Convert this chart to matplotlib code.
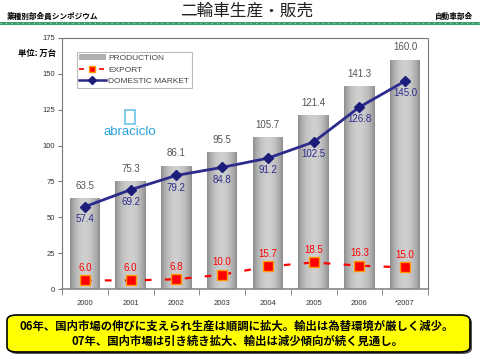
import numpy as np
import matplotlib
matplotlib.use("Agg")
import matplotlib.pyplot as plt
from matplotlib.patches import FancyBboxPatch, Rectangle
from matplotlib.lines import Line2D
from matplotlib.patches import Patch

plt.rcParams['font.family'] = ['Liberation Sans', 'Noto Sans CJK JP', 'DejaVu Sans']

years = ["2000", "2001", "2002", "2003", "2004", "2005", "2006", "*2007"]
production = [63.5, 75.3, 86.1, 95.5, 105.7, 121.4, 141.3, 160.0]
domestic = [57.4, 69.2, 79.2, 84.8, 91.2, 102.5, 126.8, 145.0]
export = [6.0, 6.0, 6.8, 10.0, 15.7, 18.5, 16.3, 15.0]
yticks = [0, 25, 50, 75, 100, 125, 150, 175]

W, H = 480, 359
fig = plt.figure(figsize=(W / 100, H / 100), dpi=100)
fig.patch.set_facecolor('white')

def fx(px):
    return px / W

def fy(py):
    return 1 - py / H

ax = fig.add_axes([fx(62), fy(289), fx(428) - fx(62), fy(38) - fy(289)])
x = np.arange(len(years))

# cylindrical bars built from strips
bw = 0.67
n = 30
edges = np.linspace(-bw / 2, bw / 2, n + 1)
centers = (edges[:-1] + edges[1:]) / 2
sw = edges[1] - edges[0]
for i, v in enumerate(production):
    for c in centers:
        t = (c + bw / 2) / bw
        g = 0.54 + 0.27 * np.sin(np.pi * t) ** 0.8
        ax.bar(x[i] + c, v, width=sw * 1.02, color=(g, g, g), linewidth=0, zorder=1)
    ax.text(x[i], v + 5, f"{v:.1f}", ha='center', va='bottom', fontsize=7, color='#555555', zorder=5)

ax.plot(x, domestic, color='#2b2b8c', lw=2, marker='D', ms=5.5, mfc='#1c1c7a', mec='#1c1c7a', zorder=3)
for i, v in enumerate(domestic):
    ax.text(x[i], v - 5, f"{v:.1f}", ha='center', va='top', fontsize=7, color='#2b2b8c', zorder=5)

ax.plot(x, export, color='#ff0000', lw=1.6, ls=(0, (3, 6)), zorder=3)
ax.plot(x, export, ls='none', marker='s', ms=7, mfc='#ff0000', mec='#ff9900', mew=1, zorder=4)
for i, v in enumerate(export):
    ax.text(x[i], v + 5, f"{v:.1f}", ha='center', va='bottom', fontsize=7, color='#ff0000', zorder=5)

ax.set_xlim(-0.5, len(years) - 0.5)
ax.set_ylim(0, 175)
ax.set_yticks(yticks)
ax.set_yticklabels([str(t) for t in yticks], fontsize=5.5, color='#333333')
ax.set_xticks(x)
ax.set_xticklabels(years, fontsize=5.5, color='#333333')
ax.tick_params(axis='x', length=0, pad=8)
ax.set_xticks(np.arange(-0.5, len(years)), minor=True)
ax.tick_params(axis='x', which='minor', length=4, color='#777777', direction='out')
ax.tick_params(axis='y', length=3, color='#777777', direction='out', pad=2)
for s in ['top', 'right', 'left']:
    ax.spines[s].set_linestyle((0, (1, 1)))
    ax.spines[s].set_color('#777777')
    ax.spines[s].set_linewidth(0.8)
ax.spines['bottom'].set_color('#888888')
ax.spines['bottom'].set_linewidth(1.2)

handles = [
    Patch(facecolor='#b0b0b0', edgecolor='none'),
    Line2D([], [], color='#ff0000', ls=(0, (3, 3)), lw=1.2, marker='s', ms=5, mfc='#ff0000', mec='#ff9900'),
    Line2D([], [], color='#2b2b8c', lw=1.8, marker='D', ms=4, mfc='#1c1c7a', mec='#1c1c7a'),
]
leg = ax.legend(handles, ['PRODUCTION', 'EXPORT', 'DOMESTIC MARKET'], loc='upper left',
                bbox_to_anchor=(0.04, 0.945), fontsize=6, frameon=True, fancybox=False,
                edgecolor='#aaaaaa', handlelength=3.2, handletextpad=0.3, borderpad=0.3,
                labelspacing=0.45, borderaxespad=0)
for t in leg.get_texts():
    t.set_color('#444444')
leg.get_frame().set_linewidth(0.8)

# logo
fig.text(fx(130), fy(132), 'abraciclo', ha='center', va='center', fontsize=9.5, color='#29a3db')
fig.patches.append(Rectangle((fx(125), fy(124)), fx(10), fy(110) - fy(124), transform=fig.transFigure,
                             facecolor='none', edgecolor='#6cc3ea', lw=1.2))

# unit label
fig.text(fx(18), fy(53), '単位: 万台', ha='left', va='center', fontsize=6, fontweight='bold', color='black',
         family=['Noto Sans CJK JP', 'DejaVu Sans'])

# header
fig.text(fx(247), fy(11), '二輪車生産・販売', ha='center', va='center', fontsize=12, color='#222222',
         family=['Noto Sans CJK JP', 'DejaVu Sans'])
fig.text(fx(7), fy(16), '業種別部会員シンポジウム', ha='left', va='center', fontsize=5.5, fontweight='bold',
         color='black', family=['Noto Sans CJK JP', 'DejaVu Sans'])
fig.text(fx(473), fy(16), '自動車部会', ha='right', va='center', fontsize=5.5, fontweight='bold',
         color='black', family=['Noto Sans CJK JP', 'DejaVu Sans'])
fig.add_artist(Line2D([0, 1], [fy(23), fy(23)], transform=fig.transFigure, color='#3a9f6e', lw=2.2))
fig.add_artist(Line2D([0, 1], [fy(23), fy(23)], transform=fig.transFigure, color='#9fd8b8', lw=0.8,
                      ls=(0, (1, 4))))

# yellow box with shadow
shadow = FancyBboxPatch((fx(9), fy(354)), fx(463) - fx(0), fy(317) - fy(354),
                        boxstyle='round,pad=0,rounding_size=0.02', transform=fig.transFigure,
                        facecolor='#555555', edgecolor='none', mutation_aspect=H / W)
box = FancyBboxPatch((fx(7), fy(352)), fx(463) - fx(0), fy(315) - fy(352),
                     boxstyle='round,pad=0,rounding_size=0.02', transform=fig.transFigure,
                     facecolor='#ffff00', edgecolor='black', lw=1.2, mutation_aspect=H / W)
fig.patches.append(shadow)
fig.patches.append(box)
fig.text(fx(237), fy(326), '06年、国内市場の伸びに支えられ生産は順調に拡大。輸出は為替環境が厳しく減少。',
         ha='center', va='center', fontsize=8.2, fontweight='bold', color='black',
         family=['Noto Sans CJK JP', 'DejaVu Sans'])
fig.text(fx(237), fy(341), '07年、国内市場は引き続き拡大、輸出は減少傾向が続く見通し。',
         ha='center', va='center', fontsize=8.2, fontweight='bold', color='black',
         family=['Noto Sans CJK JP', 'DejaVu Sans'])

fig.savefig('out.png', dpi=100)
